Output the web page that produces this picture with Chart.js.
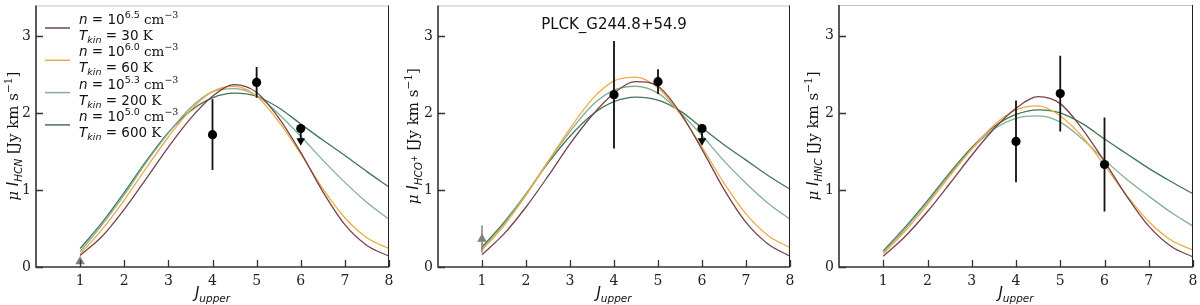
<!DOCTYPE html>
<html><head><meta charset="utf-8">
<script src="https://cdn.jsdelivr.net/npm/chart.js@4/dist/chart.umd.min.js"></script>
<style>
html,body{margin:0;padding:0;background:#fff;width:1200px;height:305px;overflow:hidden}
.p{position:absolute;top:0;width:400px;height:305px}
</style></head><body>
<div class="p" style="left:0"><canvas id="c0" width="400" height="305"></canvas></div>
<div class="p" style="left:400px"><canvas id="c1" width="400" height="305"></canvas></div>
<div class="p" style="left:800px"><canvas id="c2" width="400" height="305"></canvas></div>
<script>
// ---------- data ----------
const jGrid = [1,1.5,2,2.5,3,3.5,4,4.5,5,5.5,6,6.5,7,7.5,8];
const xTicks = [1,2,3,4,5,6,7,8];
const yTicks = [0,1,2,3];
const modelDens = ['6.5','6.0','5.3','5.0'];
const modelTemp = ['30','60','200','600'];

const hcnN65 = [0.15,0.40,0.75,1.15,1.56,1.93,2.22,2.37,2.27,1.94,1.49,0.98,0.55,0.28,0.14];
const hcnN60 = [0.17,0.49,0.87,1.29,1.69,2.04,2.28,2.35,2.22,1.89,1.47,1.02,0.64,0.38,0.24];
const hcnN53 = [0.20,0.55,0.94,1.36,1.74,2.07,2.28,2.32,2.23,1.99,1.70,1.39,1.10,0.84,0.62];
const hcnN50 = [0.24,0.58,0.97,1.38,1.75,2.03,2.20,2.26,2.22,2.07,1.86,1.65,1.45,1.24,1.04];

const hcoN65 = [0.16,0.43,0.78,1.18,1.60,1.97,2.26,2.41,2.35,2.01,1.53,1.01,0.58,0.30,0.14];
const hcoN60 = [0.22,0.54,0.93,1.37,1.80,2.18,2.42,2.47,2.33,1.99,1.56,1.09,0.69,0.41,0.25];
const hcoN53 = [0.23,0.56,0.95,1.37,1.76,2.10,2.30,2.35,2.26,2.01,1.71,1.38,1.09,0.83,0.62];
const hcoN50 = [0.26,0.58,0.95,1.35,1.70,1.98,2.15,2.21,2.17,2.03,1.81,1.59,1.39,1.19,1.01];

const hncN65 = [0.14,0.40,0.72,1.08,1.45,1.79,2.06,2.21,2.12,1.79,1.37,0.92,0.53,0.27,0.13];
const hncN60 = [0.17,0.47,0.81,1.18,1.53,1.84,2.04,2.09,1.96,1.69,1.32,0.93,0.59,0.35,0.22];
const hncN53 = [0.19,0.50,0.84,1.20,1.53,1.79,1.93,1.96,1.88,1.66,1.39,1.14,0.92,0.71,0.53];
const hncN50 = [0.21,0.52,0.86,1.22,1.55,1.82,1.98,2.04,2.00,1.86,1.66,1.47,1.28,1.11,0.95];

const obsJ = [4,5,6];
const hcnObs = [1.72,2.40,1.80];
const hcnErr = [0.46,0.20,0];
const hcnUpper = [false,false,true];
const hcoObs = [2.24,2.41,1.80];
const hcoErr = [0.70,0.16,0];
const hcoUpper = [false,false,true];
const hncObs = [1.63,2.25,1.33];
const hncErr = [0.53,0.49,0.61];
const hncUpper = [false,false,false];

const lowJ = [1];
const hcnLow = [0.07];
const hcnLowErr = [0];
const hcoLow = [0.365];
const hcoLowErr = [0.175];
const hncLow = [];
const hncLowErr = [];

const upperArrow = 0.16; // arrow length of upper-limit markers (data units)

// ---------- style ----------
const COLORS = ['#74434a','#f2ab44','#82b092','#437556'];
const SANS = '"DejaVu Sans"';
const SERIF = '"DejaVu Serif"';

function richWidth(ctx, segs){
  let w = 0;
  for (const s of segs){ ctx.font = s[1]; w += ctx.measureText(s[0]).width; }
  return w;
}
function drawRich(ctx, segs, x, y, align){
  const w = richWidth(ctx, segs);
  let cx = align === 'center' ? x - w/2 : x;
  ctx.textBaseline = 'alphabetic';
  ctx.textAlign = 'left';
  for (const s of segs){
    ctx.font = s[1];
    ctx.fillText(s[0], cx, y + (s[2]||0));
    cx += ctx.measureText(s[0]).width;
  }
}

function yTitleSegs(mol){
  const segs = [['μ', `italic 15px ${SERIF}`,0],[' ', `15px ${SERIF}`,0],['I', `italic 15px ${SANS}`,0]];
  if (mol === 'HCO+'){
    segs.push(['HCO', `italic 10.5px ${SANS}`, 3.5]);
    segs.push(['+', `8px ${SANS}`, -1.5]);
  } else {
    segs.push([mol, `italic 10.5px ${SANS}`, 3.5]);
  }
  segs.push([' [Jy km s', `15px ${SERIF}`,0]);
  segs.push(['−1', `10.5px ${SERIF}`,-6]);
  segs.push([']', `15px ${SERIF}`,0]);
  return segs;
}

function decorPlugin(cfg){
  return {
    id: 'decor'+cfg.idx,
    afterDatasetsDraw(chart){
      const ctx = chart.ctx, a = chart.chartArea;
      const xs = chart.scales.x, ys = chart.scales.y;
      ctx.save();
      ctx.lineCap = 'butt';
      ctx.strokeStyle = '#c4c4c4'; ctx.lineWidth = 1;
      ctx.beginPath(); ctx.moveTo(a.left, a.top+0.5); ctx.lineTo(a.right, a.top+0.5); ctx.stroke();
      ctx.strokeStyle = '#222'; ctx.lineWidth = 1;
      ctx.beginPath(); ctx.moveTo(a.right-0.5, a.top); ctx.lineTo(a.right-0.5, a.bottom); ctx.stroke();
      ctx.strokeStyle = '#333'; ctx.lineWidth = 1.6;
      ctx.beginPath(); ctx.moveTo(a.left, a.top); ctx.lineTo(a.left, a.bottom); ctx.lineTo(a.right, a.bottom); ctx.stroke();
      ctx.lineWidth = 1.3;
      ctx.beginPath();
      for (const v of xTicks){ const px = Math.round(xs.getPixelForValue(v))+0.5; ctx.moveTo(px, a.bottom); ctx.lineTo(px, a.bottom-7); }
      for (const v of yTicks){ const py = Math.round(ys.getPixelForValue(v))+0.5; ctx.moveTo(a.left, py); ctx.lineTo(a.left+7, py); }
      ctx.stroke();
      ctx.restore();
    },
    afterDraw(chart){
      const ctx = chart.ctx, a = chart.chartArea;
      ctx.save();
      ctx.fillStyle = '#111';
      drawRich(ctx, [['J', `italic 15px ${SANS}`,0],['upper', `italic 10.5px ${SANS}`,3.5]], (a.left+a.right)/2, 298, 'center');
      ctx.save();
      ctx.translate(18, (a.top+a.bottom)/2);
      ctx.rotate(-Math.PI/2);
      drawRich(ctx, yTitleSegs(cfg.mol), 0, 0, 'center');
      ctx.restore();
      if (cfg.title){
        ctx.font = `15px ${SANS}`;
        ctx.textAlign = 'center'; ctx.textBaseline = 'alphabetic';
        ctx.fillText(cfg.title, (a.left+a.right)/2, 29);
      }
      if (cfg.legend){
        for (let i=0;i<4;i++){
          const yl = 28 + i*32.3;
          ctx.strokeStyle = COLORS[i]; ctx.lineWidth = 1.5;
          ctx.beginPath(); ctx.moveTo(45, yl); ctx.lineTo(70, yl); ctx.stroke();
          ctx.fillStyle = '#111';
          drawRich(ctx, [['n', `italic 13.5px ${SANS}`,0],[' = 10', `13.5px ${SANS}`,0],[modelDens[i], `9.5px ${SANS}`,-6],[' cm', `13.5px ${SERIF}`,0],['−3', `9.5px ${SERIF}`,-6]], 79, yl-4, 'left');
          drawRich(ctx, [['T', `italic 13.5px ${SANS}`,0],['kin', `italic 9.5px ${SANS}`,3],[' = '+modelTemp[i]+' ', `13.5px ${SANS}`,0],['K', `13.5px ${SERIF}`,0]], 79, yl+12, 'left');
        }
      }
      ctx.restore();
    }
  };
}

function buildChart(cfg){
  const ds = [];
  ds.push({type:'scatter', label:'obs', order:1, clip:false,
    data: obsJ.map((x,i)=>({x, y:cfg.obs[i]})),
    pointStyle:'circle', pointRadius:4.6, pointBackgroundColor:'#000', pointBorderColor:'#000', pointBorderWidth:0, showLine:false});
  ds.push({type:'scatter', label:'ul', order:2, clip:false,
    data: obsJ.map((x,i)=> cfg.upper[i] ? ({x, y:cfg.obs[i]-upperArrow}) : ({x, y:null})),
    pointStyle:'triangle', rotation:180, pointRadius:5, pointBackgroundColor:'#000', pointBorderWidth:0, showLine:false});
  const eb = [];
  obsJ.forEach((x,i)=>{
    if (cfg.upper[i]){ eb.push({x,y:cfg.obs[i]},{x,y:cfg.obs[i]-upperArrow+0.02},{x,y:null}); }
    else if (cfg.err[i]>0){ eb.push({x,y:cfg.obs[i]-cfg.err[i]},{x,y:cfg.obs[i]+cfg.err[i]},{x,y:null}); }
  });
  ds.push({type:'line', label:'err', order:3, clip:false, data:eb, borderColor:'#111', borderWidth:1.8, pointRadius:0, spanGaps:false, tension:0});
  ds.push({type:'scatter', label:'ll', order:4, clip:false,
    data: lowJ.slice(0,cfg.low.length).map((x,i)=>({x, y:cfg.low[i]})),
    pointStyle:'triangle', pointRadius:5.5, pointBackgroundColor:'#7f7f7f', pointBorderWidth:0, showLine:false});
  const lb = [];
  cfg.low.forEach((v,i)=>{ if (cfg.lowErr[i]>0) lb.push({x:lowJ[i],y:v-cfg.lowErr[i]},{x:lowJ[i],y:v+cfg.lowErr[i]},{x:lowJ[i],y:null}); });
  ds.push({type:'line', label:'llerr', order:5, clip:false, data:lb, borderColor:'#7f7f7f', borderWidth:1.5, pointRadius:0, spanGaps:false});
  cfg.models.forEach((m,k)=>{
    ds.push({type:'line', label:`n=10^${modelDens[k]} T=${modelTemp[k]}K`, order:10+k,
      data: jGrid.map((x,i)=>({x, y:m[i]})), borderColor:COLORS[k], borderWidth:1.3, pointRadius:0,
      cubicInterpolationMode:'monotone', fill:false});
  });
  return new Chart(document.getElementById(cfg.id), {
    data:{datasets:ds},
    options:{
      responsive:false, animation:false, devicePixelRatio:1,
      layout:{padding:{left:0,right:cfg.pr,top:4,bottom:0}},
      plugins:{legend:{display:false}, tooltip:{enabled:false}, title:{display:false}},
      scales:{
        x:{type:'linear', min:0, max:8,
          afterBuildTicks:s=>{ s.ticks = xTicks.map(v=>({value:v})); },
          afterFit:s=>{ s.height = 38; s.paddingLeft = 0; s.paddingRight = 0; s.paddingTop = 0; s.paddingBottom = 0; },
          grid:{display:false, drawTicks:false}, border:{display:false},
          ticks:{font:{family:'DejaVu Serif', size:14}, color:'#222', padding:6, maxRotation:0, autoSkip:false}},
        y:{type:'linear', min:0, max:3.4,
          afterBuildTicks:s=>{ s.ticks = yTicks.map(v=>({value:v})); },
          afterFit:s=>{ s.width = cfg.yw; s.paddingTop = 0; s.paddingBottom = 0; s.paddingLeft = 0; s.paddingRight = 0; },
          grid:{display:false, drawTicks:false}, border:{display:false},
          ticks:{font:{family:'DejaVu Serif', size:14}, color:'#222', padding:5}}
      }
    },
    plugins:[decorPlugin(cfg)]
  });
}

buildChart({idx:0, id:'c0', yw:36, pr:11, mol:'HCN', models:[hcnN65,hcnN60,hcnN53,hcnN50],
  obs:hcnObs, err:hcnErr, upper:hcnUpper, low:hcnLow, lowErr:hcnLowErr, legend:true});
buildChart({idx:1, id:'c1', yw:38, pr:10, mol:'HCO+', models:[hcoN65,hcoN60,hcoN53,hcoN50],
  obs:hcoObs, err:hcoErr, upper:hcoUpper, low:hcoLow, lowErr:hcoLowErr, title:'PLCK_G244.8+54.9'});
buildChart({idx:2, id:'c2', yw:39, pr:7, mol:'HNC', models:[hncN65,hncN60,hncN53,hncN50],
  obs:hncObs, err:hncErr, upper:hncUpper, low:hncLow, lowErr:hncLowErr});
</script>
</body></html>
